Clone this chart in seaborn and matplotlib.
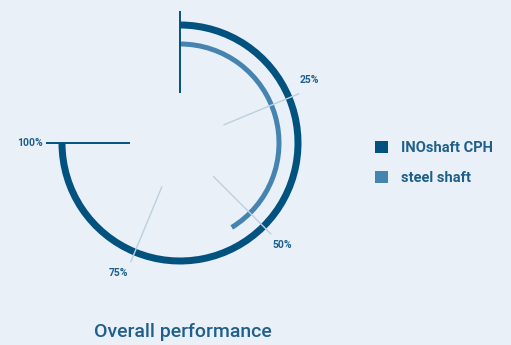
import numpy as np
import matplotlib
matplotlib.use("Agg")
import matplotlib.pyplot as plt
from matplotlib.patches import Patch
import seaborn as sns

# ---- data ----
series = ["INOshaft CPH", "steel shaft"]
values = [100, 55]               # percent of full scale
tick_values = [25, 50, 75, 100]
tick_labels = ["25%", "50%", "75%", "100%"]
title = "Overall performance"

# ---- style ----
bg = "#e9f0f7"
colors = ["#02527f", "#4584b1"]
text_c = "#1f5f8c"
grid_c = "#bcd0e0"

sns.set_theme(style="white")
plt.rcParams["font.family"] = ["Roboto", "DejaVu Sans"]

W, H = 511, 345
fig = plt.figure(figsize=(W / 100, H / 100), dpi=100, facecolor=bg)

cx, cy, R = 180, 143, 150
ax = fig.add_axes([(cx - R) / W, (H - cy - R) / H, 2 * R / W, 2 * R / H], projection="polar")
ax.set_facecolor("none")
ax.set_theta_zero_location("N")
ax.set_theta_direction(-1)
ax.set_rlim(0, R)
ax.grid(False)
ax.set_xticks([])
ax.set_yticks([])
ax.spines["polar"].set_visible(False)

full = np.deg2rad(270)
def th(v):
    return v / 100 * full

# bars (arcs)
radii = [118, 99]
thick = [7, 5]
for v, r, t, c in zip(values, radii, thick, colors):
    ax.barh(r, th(v), left=0, height=t, color=c, align="center", linewidth=0)

# gridlines
for v in tick_values[:-1]:
    ax.plot([th(v), th(v)], [47, 129], color=grid_c, lw=1, solid_capstyle="butt")
# axis start / end lines
ax.plot([0, 0], [50, 132], color=colors[0], lw=1.4, solid_capstyle="butt")
ax.plot([th(100), th(100)], [50, 134], color=colors[0], lw=1.4, solid_capstyle="butt")

# tick labels
nudge = {25: -3.5, 50: 0.0, 75: 3.0, 100: 0.0}
for v, lab in zip(tick_values, tick_labels):
    r = 144 if v < 100 else 137
    ha = "center" if v < 100 else "right"
    ax.text(th(v) + np.deg2rad(nudge[v]), r, lab, ha=ha, va="center",
            fontsize=7.5, color=text_c, fontweight="bold")

# legend
handles = [Patch(facecolor=c, edgecolor="none") for c in colors]
leg = fig.legend(handles, series, loc="center left",
                 bbox_to_anchor=(362 / W, 1 - 163 / H), frameon=False,
                 fontsize=10.5, handlelength=0.9, handleheight=0.9,
                 handletextpad=0.9, labelspacing=1.15)
for t in leg.get_texts():
    t.set_color(text_c)
    t.set_fontweight("bold")

fig.text(183 / W, 1 - 332 / H, title, ha="center", va="center",
         fontsize=14, color=text_c, fontweight="medium")

fig.savefig("out.png", dpi=100, facecolor=bg)
